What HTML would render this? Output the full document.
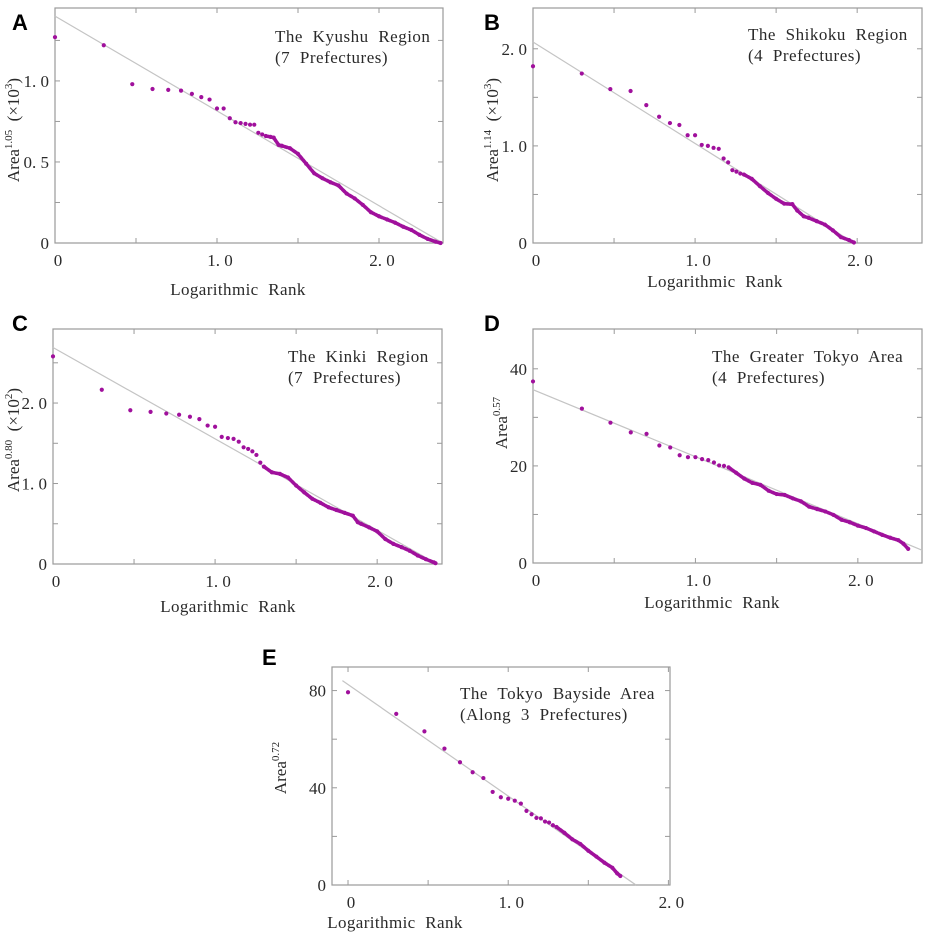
<!DOCTYPE html>
<html><head><meta charset="utf-8"><style>
body{margin:0;background:#fff}
svg text{font-family:"Liberation Serif",serif;fill:#2a2a2a}
.pl{font-family:"Liberation Sans",sans-serif;font-weight:bold;font-size:22px;fill:#000}
</style></head><body>
<svg id="fig" width="941" height="933" viewBox="0 0 941 933" xmlns="http://www.w3.org/2000/svg"></svg>
<script>
// Panel A: Kyushu
const aX=[0,0.301,0.477,0.602,0.699,0.778,0.845,0.903,0.954,1.0,1.041,1.079,1.114,1.146,1.176,1.204,1.230,1.255,1.279,1.301,1.33,1.35,1.38,1.4,1.45,1.5,1.55,1.6,1.65,1.7,1.75,1.8,1.85,1.9,1.95,2.0,2.05,2.1,2.15,2.2,2.25,2.3,2.35,2.38];
const aY=[1.27,1.22,0.98,0.95,0.945,0.94,0.92,0.90,0.885,0.83,0.83,0.77,0.745,0.74,0.735,0.73,0.73,0.68,0.67,0.66,0.655,0.65,0.605,0.60,0.585,0.55,0.49,0.43,0.40,0.375,0.355,0.305,0.275,0.235,0.19,0.165,0.145,0.125,0.10,0.08,0.05,0.025,0.008,0];
const aFit=[1.40,-0.585];
// Panel B: Shikoku
const bX=[0,0.301,0.477,0.602,0.699,0.778,0.845,0.903,0.954,1.0,1.041,1.079,1.114,1.146,1.176,1.204,1.230,1.255,1.279,1.301,1.35,1.4,1.45,1.5,1.55,1.6,1.63,1.67,1.7,1.75,1.8,1.85,1.9,1.95,1.98];
const bY=[1.82,1.745,1.585,1.565,1.42,1.30,1.235,1.215,1.11,1.11,1.01,1.0,0.98,0.97,0.87,0.83,0.75,0.735,0.715,0.705,0.66,0.585,0.515,0.455,0.405,0.40,0.335,0.275,0.26,0.225,0.19,0.13,0.06,0.03,0.005];
const bFit=[2.07,-1.045];
// Panel C: Kinki
const cX=[0,0.301,0.477,0.602,0.699,0.778,0.845,0.903,0.954,1.0,1.041,1.079,1.114,1.146,1.176,1.204,1.230,1.255,1.279,1.301,1.35,1.4,1.45,1.5,1.55,1.6,1.65,1.7,1.75,1.8,1.85,1.88,1.9,1.95,2.0,2.05,2.1,2.15,2.2,2.25,2.3,2.35,2.36];
const cY=[2.58,2.165,1.91,1.89,1.87,1.855,1.83,1.80,1.72,1.705,1.58,1.565,1.555,1.52,1.45,1.43,1.40,1.355,1.26,1.21,1.14,1.12,1.075,0.975,0.89,0.81,0.76,0.705,0.67,0.635,0.60,0.52,0.50,0.455,0.405,0.31,0.25,0.21,0.165,0.105,0.06,0.02,0.01];
const cFit=[2.69,-1.135];
// Panel D: Greater Tokyo
const dX=[0,0.301,0.477,0.602,0.699,0.778,0.845,0.903,0.954,1.0,1.041,1.079,1.114,1.146,1.176,1.204,1.25,1.3,1.35,1.4,1.45,1.5,1.55,1.6,1.65,1.7,1.75,1.8,1.85,1.9,1.95,2.0,2.05,2.1,2.15,2.2,2.25,2.28,2.31];
const dY=[37.4,31.8,28.9,26.9,26.6,24.2,23.8,22.2,21.8,21.8,21.4,21.2,20.7,20.1,20.0,19.7,18.6,17.4,16.5,16.1,14.9,14.2,14.0,13.3,12.7,11.6,11.1,10.6,9.9,8.9,8.4,7.7,7.2,6.5,5.8,5.2,4.7,4.0,2.9];
const dFit=[35.7,-13.8];
// Panel E: Tokyo Bayside
const eX=[0,0.301,0.477,0.602,0.699,0.778,0.845,0.903,0.954,1.0,1.041,1.079,1.114,1.146,1.176,1.204,1.230,1.255,1.279,1.301,1.35,1.4,1.45,1.5,1.55,1.6,1.65,1.68,1.7];
const eY=[79.3,70.4,63.2,56.1,50.5,46.4,44.0,38.3,36.1,35.5,34.7,33.5,30.5,29.1,27.6,27.4,26.1,25.7,24.6,23.9,21.5,18.8,16.9,14.1,11.7,9.2,7.1,4.8,3.7];
const eFit=[82.5,-45.9];

const NS="http://www.w3.org/2000/svg";
const svg=document.getElementById('fig');
function mk(tag,attrs,parent){const e=document.createElementNS(NS,tag);for(const k in attrs)e.setAttribute(k,attrs[k]);(parent||svg).appendChild(e);return e;}

const panels=[
 {id:'a',L:55,T:8,R:443,B:243,x0:0,x1:2.395,y1:1.45,xs:aX,ys:aY,fit:aFit,fitX:[0,2.39],
  yt:[[0,'0'],[0.5,'0. 5'],[1.0,'1. 0']],ym:[0.25,0.75,1.25],
  xt:[[0,'0'],[1,'1. 0'],[2,'2. 0']],xm:[0.5,1.5],dense:1.3,
  letter:['A',12,30],title:['The Kyushu Region','(7 Prefectures)',275,42],xl:[238,295],yl:[19,130],exp:'1.05',mult:'3'},
 {id:'b',L:533,T:8,R:922,B:243,x0:0,x1:2.4,y1:2.42,xs:bX,ys:bY,fit:bFit,fitX:[0,1.98],
  yt:[[0,'0'],[1,'1. 0'],[2,'2. 0']],ym:[0.5,1.5],
  xt:[[0,'0'],[1,'1. 0'],[2,'2. 0']],xm:[0.5,1.5],dense:1.3,
  letter:['B',484,30],title:['The Shikoku Region','(4 Prefectures)',748,40],xl:[715,287],yl:[498,130],exp:'1.14',mult:'3'},
 {id:'c',L:53,T:329,R:442,B:564,x0:0,x1:2.4,y1:2.92,xs:cX,ys:cY,fit:cFit,fitX:[0,2.37],
  yt:[[0,'0'],[1,'1. 0'],[2,'2. 0']],ym:[0.5,1.5,2.5],
  xt:[[0,'0'],[1,'1. 0'],[2,'2. 0']],xm:[0.5,1.5],dense:1.3,
  letter:['C',12,331],title:['The Kinki Region','(7 Prefectures)',288,362],xl:[228,612],yl:[19,440],exp:'0.80',mult:'2'},
 {id:'d',L:533,T:329,R:922,B:563,x0:0,x1:2.395,y1:48.2,xs:dX,ys:dY,fit:dFit,fitX:[0,2.395],
  yt:[[0,'0'],[20,'20'],[40,'40']],ym:[10,30],
  xt:[[0,'0'],[1,'1. 0'],[2,'2. 0']],xm:[0.5,1.5],dense:1.2,
  letter:['D',484,331],title:['The Greater Tokyo Area','(4 Prefectures)',712,362],xl:[712,608],yl:[507,423],exp:'0.57',mult:null},
 {id:'e',L:332,T:667,R:670,B:885,x0:-0.1,x1:2.01,y1:89.7,xs:eX,ys:eY,fit:eFit,fitX:[-0.035,1.796],
  yt:[[0,'0'],[40,'40'],[80,'80']],ym:[20,60],
  xt:[[0,'0'],[1,'1. 0'],[2,'2. 0']],xm:[0.5,1.5],dense:1.3,
  letter:['E',262,665],title:['The Tokyo Bayside Area','(Along 3 Prefectures)',460,699],xl:[395,928],yl:[286,768],exp:'0.72',mult:null}
];

panels.forEach(p=>{
 const g=mk('g',{});
 
 
 const sx=v=>p.L+(v-p.x0)/(p.x1-p.x0)*(p.R-p.L);
 const sy=v=>p.B-v/p.y1*(p.B-p.T);
 const fr=mk('rect',{x:p.L,y:p.T,width:p.R-p.L,height:p.B-p.T,fill:'none',stroke:'#9a9a9a','stroke-width':1.2},g);
 
 
 const tk=[];
 p.yt.forEach(t=>tk.push(['y',t[0]]));p.ym.forEach(v=>tk.push(['y',v]));
 p.xt.forEach(t=>tk.push(['x',t[0]]));p.xm.forEach(v=>tk.push(['x',v]));
 tk.forEach(t=>{
  if(t[0]==='y'){const y=sy(t[1]);if(y<=p.T||y>=p.B)return;
   mk('line',{x1:p.L,x2:p.L+5,y1:y,y2:y,stroke:'#9a9a9a'},g);mk('line',{x1:p.R,x2:p.R-5,y1:y,y2:y,stroke:'#9a9a9a'},g);}
  else{const x=sx(t[1]);if(x<=p.L+1||x>=p.R)return;
   mk('line',{x1:x,x2:x,y1:p.B,y2:p.B-5,stroke:'#9a9a9a'},g);mk('line',{x1:x,x2:x,y1:p.T,y2:p.T+5,stroke:'#9a9a9a'},g);}
 });
 p.yt.forEach(t=>{const e=mk('text',{x:p.L-6,y:sy(t[0])+6,'text-anchor':'end','font-size':17},g);e.textContent=t[1];
  
  });
 p.xt.forEach(t=>{const e=mk('text',{x:sx(t[0])+3,y:p.B+23,'text-anchor':'middle','font-size':17},g);e.textContent=t[1];
  
  });
 const fl=mk('line',{x1:sx(p.fitX[0]),y1:sy(p.fit[0]+p.fit[1]*p.fitX[0]),x2:sx(p.fitX[1]),y2:sy(p.fit[0]+p.fit[1]*p.fitX[1]),stroke:'#c4c4c4','stroke-width':1.2},g);
 
 
 let pts=[];
 p.xs.forEach((x,i)=>{if(x>=p.dense)pts.push(sx(x).toFixed(1)+','+sy(p.ys[i]).toFixed(1));});
 const pl=mk('polyline',{points:pts.join(' '),fill:'none',stroke:'#a0109c','stroke-width':3.6,'stroke-linecap':'round','stroke-linejoin':'round','stroke-dasharray':'3 1.6'},g);
 
 
 p.xs.forEach((x,i)=>{const c=mk('circle',{cx:sx(x),cy:sy(p.ys[i]),r:2.1,fill:'#a0109c'},g);
  
  });
 const t1=mk('text',{x:p.title[2],y:p.title[3],'font-size':17,'word-spacing':'5px','letter-spacing':'0.5px'},g);t1.textContent=p.title[0];
 
 
 const t2=mk('text',{x:p.title[2],y:p.title[3]+21,'font-size':17,'word-spacing':'5px','letter-spacing':'0.5px'},g);t2.textContent=p.title[1];
 
 
 const xl=mk('text',{x:p.xl[0],y:p.xl[1],'text-anchor':'middle','font-size':17,'word-spacing':'5px','letter-spacing':'0.4px'},g);xl.textContent='Logarithmic Rank';
 
 
 const yl=mk('text',{x:0,y:0,'text-anchor':'middle','font-size':17,transform:`translate(${p.yl[0]},${p.yl[1]}) rotate(-90)`},g);
 
 
 yl.appendChild(document.createTextNode('Area'));
 const s1=mk('tspan',{'font-size':11,dy:-7},yl);s1.textContent=p.exp;
 if(p.mult){const s2=mk('tspan',{dy:7},yl);s2.textContent='\u00a0 (\u00d710';
  const s3=mk('tspan',{'font-size':11,dy:-7},yl);s3.textContent=p.mult;
  const s4=mk('tspan',{dy:7},yl);s4.textContent=')';}
 const lt=mk('text',{x:p.letter[1],y:p.letter[2],class:'pl'},g);lt.textContent=p.letter[0];
 
 
});
</script>
</body></html>
